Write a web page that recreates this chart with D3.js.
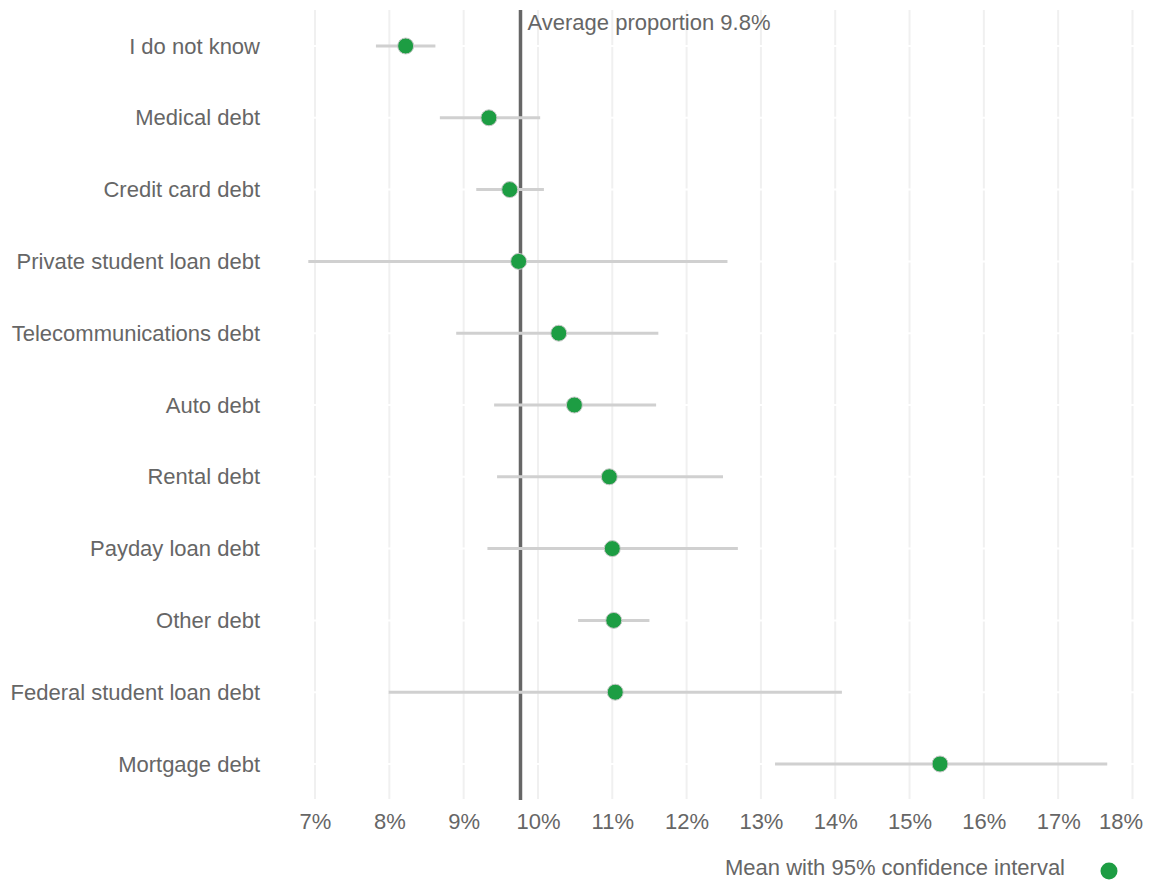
<!DOCTYPE html>
<html>
<head>
<meta charset="utf-8">
<script src="https://cdn.jsdelivr.net/npm/d3@7"></script>
<style>
  body { margin: 0; background: #fff; }
  text { font-family: "Liberation Sans", Arial, sans-serif; fill: #666; }
</style>
</head>
<body>
<script>
'use strict';
(function () {
  // debt types, top to bottom
  const categories = [
    "I do not know", "Medical debt", "Credit card debt", "Private student loan debt",
    "Telecommunications debt", "Auto debt", "Rental debt", "Payday loan debt",
    "Other debt", "Federal student loan debt", "Mortgage debt"
  ];
  // mean proportion (%)
  const means = [8.22, 9.34, 9.62, 9.74, 10.28, 10.49, 10.96, 11.00, 11.02, 11.04, 15.41];
  // 95% confidence interval bounds (%)
  const lower = [7.82, 8.68, 9.17, 6.91, 8.90, 9.41, 9.45, 9.32, 10.54, 7.99, 13.19];
  const upper = [8.62, 10.03, 10.08, 12.55, 11.62, 11.59, 12.49, 12.69, 11.50, 14.09, 17.66];
  const tickValues = [7, 8, 9, 10, 11, 12, 13, 14, 15, 16, 17, 18];
  const averageValue = 9.765;
  const averageLabel = "Average proportion 9.8%";
  const legendLabel = "Mean with 95% confidence interval";

  const rows = categories.map((c, i) => ({ cat: c, mean: means[i], lo: lower[i], hi: upper[i] }));
  const fontSize = '22px';

  const svg = d3.select('body')
    .append('svg')
    .attr('width', 1152)
    .attr('height', 880);

  const x = d3.scaleLinear().domain([7, 18]).range([315, 1132.5]);
  const y = d3.scalePoint().domain(categories).range([46, 764]);
  const top = 10, bottom = 799;

  // vertical grid
  svg.append('g')
    .selectAll('line')
    .data(tickValues)
    .enter()
    .append('line')
    .attr('x1', (d) => x(d))
    .attr('x2', (d) => x(d))
    .attr('y1', top)
    .attr('y2', bottom)
    .attr('stroke', '#f0f0f0')
    .attr('stroke-width', 2);

  // white row lines over the grid
  svg.append('g')
    .selectAll('line')
    .data(categories)
    .enter()
    .append('line')
    .attr('x1', 300)
    .attr('x2', 1145)
    .attr('y1', (d) => y(d))
    .attr('y2', (d) => y(d))
    .attr('stroke', '#fff')
    .attr('stroke-width', 2);

  // x axis labels
  const xAxis = svg.append('g')
    .attr('transform', 'translate(0,' + bottom + ')')
    .call(d3.axisBottom(x).tickValues(tickValues).tickSize(0).tickPadding(14)
      .tickFormat((d) => d + '%'));
  xAxis.select('.domain').remove();
  xAxis.selectAll('text')
    .attr('font-size', fontSize)
    .attr('font-family', '"Liberation Sans", Arial, sans-serif')
    .style('fill', '#666');
  xAxis.selectAll('.tick').filter((d) => d === 18).select('text')
    .attr('text-anchor', 'end')
    .attr('x', 10);

  // y axis labels
  const yAxis = svg.append('g')
    .attr('transform', 'translate(315,0)')
    .call(d3.axisLeft(y).tickSize(0).tickPadding(55));
  yAxis.select('.domain').remove();
  yAxis.selectAll('text')
    .attr('font-size', fontSize)
    .attr('font-family', '"Liberation Sans", Arial, sans-serif')
    .style('fill', '#666');

  // average line
  svg.append('line')
    .attr('x1', x(averageValue))
    .attr('x2', x(averageValue))
    .attr('y1', top)
    .attr('y2', bottom + 1)
    .attr('stroke', '#666')
    .attr('stroke-width', 3.5);

  svg.append('text')
    .attr('x', x(averageValue) + 7)
    .attr('y', 30)
    .style('font-size', fontSize)
    .text(averageLabel);

  // confidence intervals
  svg.append('g')
    .selectAll('line')
    .data(rows)
    .enter()
    .append('line')
    .attr('x1', (d) => x(d.lo))
    .attr('x2', (d) => x(d.hi))
    .attr('y1', (d) => y(d.cat))
    .attr('y2', (d) => y(d.cat))
    .attr('stroke', '#d0d0d0')
    .attr('stroke-width', 3);

  // means
  svg.append('g')
    .selectAll('circle')
    .data(rows)
    .enter()
    .append('circle')
    .attr('cx', (d) => x(d.mean))
    .attr('cy', (d) => y(d.cat))
    .attr('r', 8)
    .attr('fill', '#1d9d43')
    .attr('stroke', '#c8c8c8')
    .attr('stroke-width', 1);

  // legend
  svg.append('text')
    .attr('x', 1065)
    .attr('y', 875)
    .attr('text-anchor', 'end')
    .style('font-size', fontSize)
    .text(legendLabel);
  svg.append('circle')
    .attr('cx', 1109)
    .attr('cy', 871)
    .attr('r', 8.5)
    .attr('fill', '#1d9d43');
})();
</script>
</body>
</html>
